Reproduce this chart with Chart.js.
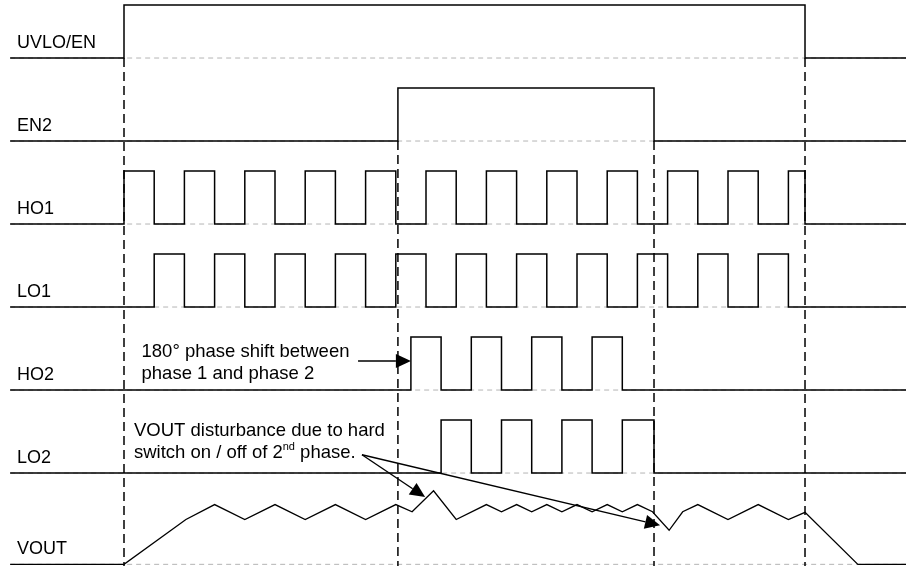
<!DOCTYPE html>
<html>
<head>
<meta charset="UTF-8">
<title>Timing diagram</title>
<script src="https://cdn.jsdelivr.net/npm/chart.js"></script>
<style>
  body { margin: 0; background: #fff; }
  #wrap { width: 906px; height: 566px; position: relative; }
</style>
</head>
<body>
<div id="wrap"><canvas id="timing"></canvas></div>
<script>
// time axis in half switching periods, t = 0 at the UVLO/EN rising edge
const tStart = -3.77;
const tEnd = 25.9;

const signalNames = ['UVLO/EN', 'EN2', 'HO1', 'LO1', 'HO2', 'LO2', 'VOUT'];

// digital signals: [time, level from this time on]
const uvloEdges = [[tStart, 0], [0, 1], [22.55, 0], [tEnd, 0]];
const en2Edges = [[tStart, 0], [9.07, 1], [17.55, 0], [tEnd, 0]];
const ho1Edges = [[tStart, 0], [0, 1], [1, 0], [2, 1], [3, 0], [4, 1], [5, 0], [6, 1], [7, 0], [8, 1], [9, 0],
  [10, 1], [11, 0], [12, 1], [13, 0], [14, 1], [15, 0], [16, 1], [17, 0], [18, 1], [19, 0], [20, 1], [21, 0],
  [22, 1], [22.55, 0], [tEnd, 0]];
const lo1Edges = [[tStart, 0], [1, 1], [2, 0], [3, 1], [4, 0], [5, 1], [6, 0], [7, 1], [8, 0], [9, 1], [10, 0],
  [11, 1], [12, 0], [13, 1], [14, 0], [15, 1], [16, 0], [17, 1], [18, 0], [19, 1], [20, 0], [21, 1], [22, 0],
  [tEnd, 0]];
const ho2Edges = [[tStart, 0], [9.5, 1], [10.5, 0], [11.5, 1], [12.5, 0], [13.5, 1], [14.5, 0], [15.5, 1],
  [16.5, 0], [tEnd, 0]];
const lo2Edges = [[tStart, 0], [10.5, 1], [11.5, 0], [12.5, 1], [13.5, 0], [14.5, 1], [15.5, 0], [16.5, 1],
  [17.55, 0], [tEnd, 0]];

// output voltage (1 = ripple peak)
const voutTimes = [tStart, 0, 2.05, 3, 4, 5, 6, 7, 8, 9, 9.54, 10.25, 11, 12, 12.5, 13, 13.5, 14, 14.5, 15,
  15.5, 16, 16.5, 17, 17.5, 18.05, 18.5, 19, 20, 21, 22, 22.55, 24.3, tEnd];
const voutLevels = [0, 0, 0.75, 1, 0.75, 1, 0.75, 1, 0.75, 1, 0.88, 1.23, 0.75, 1, 0.88, 1, 0.88, 1, 0.88, 1,
  0.88, 1, 0.88, 1, 0.88, 0.57, 0.88, 1, 0.75, 1, 0.75, 0.87, 0, 0];

// dashed time markers and the lane each one starts from
const markerTimes = [0, 9.07, 17.55, 22.55];
const markerFromLane = [0, 1, 1, 0];

// layout (lane units on y)
const laneBase = [0, 1, 2, 3, 4, 5, 6.1];
const pulseHeight = 0.64;
const voutScale = 0.72;
const yMin = -0.699, yMax = 6.12;
const xMin = -4.106, xMax = 25.894;

const notes = [
  { t: 0.58, lane: 3.6, lines: [[['180° phase shift between', false]], [['phase 1 and phase 2', false]]] },
  { t: 0.33, lane: 4.55, lines: [[['VOUT disturbance due to hard', false]],
    [['switch on / off of 2', false], ['nd', true], [' phase.', false]]] }
];
const arrows = [
  { from: [7.75, 3.65], to: [9.5, 3.65] },
  { from: [7.88, 4.78], to: [9.97, 5.29] },
  { from: [7.88, 4.78], to: [17.75, 5.63] }
];

const FONT = '"Liberation Sans", Arial, sans-serif';

function digital(edges, lane) {
  return edges.map(e => ({ x: e[0], y: laneBase[lane] - e[1] * pulseHeight }));
}

const datasets = [];
// grey reference baselines under everything
laneBase.forEach(b => {
  datasets.push({
    data: [{ x: tStart, y: b }, { x: tEnd, y: b }],
    borderColor: '#b4b4b4', borderWidth: 1, borderDash: [5, 4], order: 10
  });
});
// dashed time markers
markerTimes.forEach((t, i) => {
  datasets.push({
    data: [{ x: t, y: laneBase[markerFromLane[i]] }, { x: t, y: yMax }],
    borderColor: '#000', borderWidth: 1.5, borderDash: [9, 5], order: 5
  });
});
[uvloEdges, en2Edges, ho1Edges, lo1Edges, ho2Edges, lo2Edges].forEach((edges, i) => {
  datasets.push({ data: digital(edges, i), stepped: true, borderColor: '#000', borderWidth: 1.5, order: 0 });
});
datasets.push({
  data: voutTimes.map((t, i) => ({ x: t, y: laneBase[6] - voutLevels[i] * voutScale })),
  borderColor: '#000', borderWidth: 1.3, order: 0
});

const annotate = {
  id: 'annotate',
  afterDatasetsDraw(chart) {
    const ctx = chart.ctx;
    const xs = chart.scales.x, ys = chart.scales.y;
    ctx.save();
    ctx.fillStyle = '#000';
    ctx.textBaseline = 'alphabetic';
    ctx.font = '18px ' + FONT;
    signalNames.forEach((name, i) => {
      ctx.fillText(name, 17, ys.getPixelForValue(laneBase[i]) - 10);
    });
    notes.forEach(n => {
      const x0 = xs.getPixelForValue(n.t);
      let y = ys.getPixelForValue(n.lane);
      n.lines.forEach(parts => {
        let x = x0;
        parts.forEach(([txt, sup]) => {
          ctx.font = (sup ? '11px ' : '18.5px ') + FONT;
          ctx.fillText(txt, x, sup ? y - 8 : y);
          x += ctx.measureText(txt).width;
        });
        y += 22;
      });
    });
    ctx.strokeStyle = '#000';
    ctx.lineWidth = 1.4;
    arrows.forEach(a => {
      const x1 = xs.getPixelForValue(a.from[0]), y1 = ys.getPixelForValue(a.from[1]);
      const x2 = xs.getPixelForValue(a.to[0]), y2 = ys.getPixelForValue(a.to[1]);
      const ang = Math.atan2(y2 - y1, x2 - x1);
      const len = 15, hw = 7;
      const bx = x2 - len * Math.cos(ang), by = y2 - len * Math.sin(ang);
      ctx.beginPath();
      ctx.moveTo(x1, y1);
      ctx.lineTo(bx, by);
      ctx.stroke();
      ctx.beginPath();
      ctx.moveTo(x2, y2);
      ctx.lineTo(bx + hw * Math.sin(ang), by - hw * Math.cos(ang));
      ctx.lineTo(bx - hw * Math.sin(ang), by + hw * Math.cos(ang));
      ctx.closePath();
      ctx.fill();
    });
    ctx.restore();
  }
};

new Chart(document.getElementById('timing'), {
  type: 'line',
  data: { datasets: datasets },
  options: {
    responsive: true,
    maintainAspectRatio: false,
    animation: false,
    layout: { padding: 0 },
    elements: { point: { radius: 0 }, line: { tension: 0, fill: false } },
    datasets: { line: { clip: false } },
    plugins: { legend: { display: false }, tooltip: { enabled: false } },
    scales: {
      x: { type: 'linear', min: xMin, max: xMax, display: false },
      y: { type: 'linear', min: yMin, max: yMax, reverse: true, display: false }
    }
  },
  plugins: [annotate]
});
</script>
</body>
</html>
